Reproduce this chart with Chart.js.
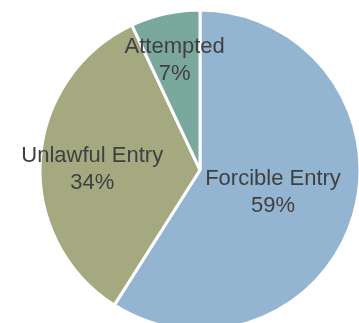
<!DOCTYPE html>
<html>
<head>
<meta charset="utf-8">
<script src="https://cdn.jsdelivr.net/npm/chart.js@4"></script>
<style>
  html, body { margin: 0; padding: 0; background: #fff; overflow: hidden; }
  #wrap { width: 359px; height: 323px; overflow: hidden; position: relative; }
  canvas { position: absolute; left: 0; top: 0; }
</style>
</head>
<body>
<div id="wrap"><canvas id="pieChart" width="400" height="340"></canvas></div>
<script>
// burglary types, share of all burglaries (%)
const categories = ["Forcible Entry", "Unlawful Entry", "Attempted"];
const shares = [59, 34, 7];
const sliceColors = ["#94b5d2", "#a4a980", "#7aa89c"];

// label placement: fraction of radius out from centre, plus a small vertical nudge
const labelRadius = [0.475, 0.675, 0.725];
const labelNudgeY = [1, 6, 3];

const sliceLabels = {
  id: "sliceLabels",
  afterDatasetsDraw(chart) {
    const ctx = chart.ctx;
    const meta = chart.getDatasetMeta(0);
    const total = shares.reduce((a, b) => a + b, 0);
    ctx.save();
    ctx.font = "22px 'Liberation Sans', Arial, sans-serif";
    ctx.fillStyle = "#404040";
    ctx.textAlign = "center";
    ctx.textBaseline = "middle";
    meta.data.forEach((arc, i) => {
      const mid = (arc.startAngle + arc.endAngle) / 2;
      const r = arc.outerRadius * labelRadius[i];
      const x = arc.x + Math.cos(mid) * r;
      const y = arc.y + Math.sin(mid) * r + labelNudgeY[i];
      const pct = Math.round((shares[i] / total) * 100) + "%";
      ctx.fillText(categories[i], x, y - 13);
      ctx.fillText(pct, x, y + 14);
    });
    ctx.restore();
  },
};

new Chart(document.getElementById("pieChart").getContext("2d"), {
  type: "pie",
  data: {
    labels: categories,
    datasets: [
      {
        data: shares,
        backgroundColor: sliceColors,
        borderColor: "#ffffff",
        borderWidth: 3,
      },
    ],
  },
  options: {
    responsive: false,
    animation: false,
    layout: { padding: { left: 38.5, right: 38.5, top: 8.5, bottom: 8.5 } },
    plugins: {
      legend: { display: false },
      tooltip: { enabled: false },
    },
  },
  plugins: [sliceLabels],
});
</script>
</body>
</html>
